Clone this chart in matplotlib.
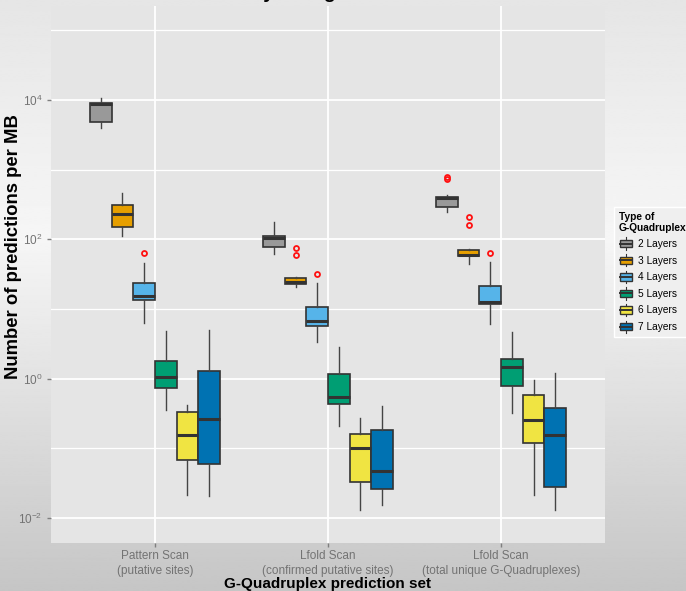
import numpy as np
import matplotlib
matplotlib.use('Agg')
import matplotlib.pyplot as plt
from matplotlib.patches import Rectangle, Patch
from matplotlib.lines import Line2D
from matplotlib.legend_handler import HandlerBase
from matplotlib.ticker import FixedLocator

plt.rcParams['font.family'] = ['Liberation Sans', 'DejaVu Sans']
plt.rcParams['mathtext.fontset'] = 'custom'
plt.rcParams['mathtext.rm'] = 'Liberation Sans'
plt.rcParams['mathtext.it'] = 'Liberation Sans:italic'
plt.rcParams['mathtext.bf'] = 'Liberation Sans:bold'

# prediction sets on the x axis
sets = ['Pattern Scan\n(putative sites)',
        'Lfold Scan\n(confirmed putative sites)',
        'Lfold Scan\n(total unique G-Quadruplexes)']
layers = ['2 Layers', '3 Layers', '4 Layers', '5 Layers', '6 Layers', '7 Layers']
layer_colors = ['#999999', '#E69F00', '#56B4E9', '#009E73', '#F0E442', '#0072B2']

# box statistics per set, one row per layer: whisker low, q1, median, q3, whisker high
pattern_stats = [
    [3930, 4890, 8710, 8950, 10570],
    [112, 148, 234, 316, 468],
    [6.3, 13.5, 15.5, 23.4, 46.3],
    [0.355, 0.74, 1.04, 1.82, 4.85],
    [0.0214, 0.0676, 0.156, 0.331, 0.42],
    [0.0209, 0.0589, 0.263, 1.28, 4.97],
]
confirmed_stats = [
    [61.7, 77.1, 103.7, 112.2, 179.5],
    [20.4, 22.7, 24.5, 27.5, 28.6],
    [3.4, 5.66, 6.68, 10.6, 23.4],
    [0.21, 0.43, 0.55, 1.17, 2.88],
    [0.0129, 0.0324, 0.1016, 0.158, 0.271],
    [0.0155, 0.026, 0.0479, 0.184, 0.407],
]
total_stats = [
    [245, 295, 389, 410, 427],
    [44.7, 57.5, 58.9, 70.8, 72.4],
    [6.03, 11.6, 12.8, 21.4, 47.9],
    [0.324, 0.78, 1.48, 1.92, 4.74],
    [0.0214, 0.119, 0.257, 0.575, 0.97],
    [0.0132, 0.0275, 0.156, 0.38, 1.22],
]
# outliers per set and layer
pattern_out = [[], [], [64.6], [], [], []]
confirmed_out = [[], [74.5, 58.9], [31.6], [], [], []]
total_out = [[776, 724], [207, 158], [64.6], [], [], []]

all_stats = [pattern_stats, confirmed_stats, total_stats]
all_out = [pattern_out, confirmed_out, total_out]

fig = plt.figure(figsize=(6.86, 5.91), dpi=100)

# soft grey gradient behind everything
bg_ax = fig.add_axes([0, 0, 1, 1], zorder=-10)
ramp = np.interp(np.linspace(0, 1, 300), [0, 0.4, 1], [0.90, 0.965, 0.775])
bg_ax.imshow(ramp[:, None], cmap='gray', vmin=0, vmax=1, aspect='auto',
             extent=[0, 1, 0, 1], origin='upper')
bg_ax.axis('off')

ax = fig.add_axes([51 / 686, 48 / 591, 554 / 686, 537 / 591])
ax.set_facecolor('#E5E5E5')
for s in ax.spines.values():
    s.set_visible(False)

dodge = 0.125
for g, (stats, outs) in enumerate(zip(all_stats, all_out)):
    for i, (row, fl) in enumerate(zip(stats, outs)):
        lo, q1, med, q3, hi = row
        d = {'whislo': lo, 'q1': q1, 'med': med, 'q3': q3, 'whishi': hi,
             'fliers': np.array(fl)}
        pos = g + 1 + (i - 2.5) * dodge
        ax.bxp([d], positions=[pos], widths=dodge, showcaps=False,
               patch_artist=True, manage_ticks=False,
               boxprops=dict(facecolor=layer_colors[i], edgecolor='#333333', linewidth=1.2),
               medianprops=dict(color='#333333', linewidth=2.2),
               whiskerprops=dict(color='#444444', linewidth=1.0),
               flierprops=dict(marker='o', markerfacecolor='none', markeredgecolor='#FF1010',
                               markersize=3.6, markeredgewidth=1.3))

ax.set_yscale('log')
ax.set_ylim(10 ** -2.359, 10 ** 5.349)
ax.set_xlim(0.4, 3.6)

ax.yaxis.set_major_locator(FixedLocator([1e-2, 1e0, 1e2, 1e4]))
ax.set_yticklabels(['$10^{-2}$', '$10^{0}$', '$10^{2}$', '$10^{4}$'])
ax.yaxis.set_minor_locator(FixedLocator([1e-1, 1e1, 1e3, 1e5]))
ax.yaxis.set_minor_formatter(plt.NullFormatter())
ax.set_xticks([1, 2, 3])
ax.set_xticklabels(sets, linespacing=1.35)

ax.tick_params(axis='both', which='major', colors='#7F7F7F', labelcolor='#737373',
               labelsize=8.5, length=3, width=1)
ax.tick_params(axis='y', which='minor', length=0)
ax.tick_params(axis='x', pad=2)
ax.tick_params(axis='y', pad=3)

ax.grid(True, which='major', color='white', linewidth=1.3)
ax.grid(True, which='minor', axis='y', color='white', linewidth=0.9)
ax.set_axisbelow(True)

fig.text(14 / 686, 1 - 247 / 591, 'Number of predictions per MB', rotation=90,
         ha='center', va='center', fontsize=13.3, fontweight='bold')
fig.text(327 / 686, 1 - 584 / 591, 'G-Quadruplex prediction set', ha='center',
         va='center', fontsize=11, fontweight='bold')

fig.text(328 / 686, 1 + 2.5 / 591, 'Flybase genomes', ha='center', va='baseline',
         fontsize=14, fontweight='bold')


class BoxKey(HandlerBase):
    def create_artists(self, legend, orig_handle, xdescent, ydescent,
                       width, height, fontsize, trans):
        x0, y0 = -xdescent, -ydescent
        bgr = Rectangle((x0, y0), width, height, facecolor='#F2F2F2',
                        edgecolor='none', transform=trans)
        whisk = Line2D([x0 + width / 2] * 2, [y0, y0 + height], color='#333333',
                       linewidth=0.8, transform=trans)
        box = Rectangle((x0 + width * 0.1, y0 + height * 0.2), width * 0.8, height * 0.6,
                        facecolor=orig_handle.get_facecolor(), edgecolor='#333333',
                        linewidth=1.0, transform=trans)
        med = Line2D([x0 + width * 0.1, x0 + width * 0.9], [y0 + height / 2] * 2,
                     color='#333333', linewidth=1.4, transform=trans)
        return [bgr, whisk, box, med]


handles = [Patch(facecolor=c) for c in layer_colors]
leg = fig.legend(handles, layers, handler_map={Patch: BoxKey()},
                 loc='upper left', bbox_to_anchor=(614 / 686, (591 - 207) / 591),
                 title='Type of\nG-Quadruplex', alignment='left',
                 fontsize=7.3, title_fontproperties={'weight': 'bold', 'size': 7.3},
                 frameon=True, fancybox=False, facecolor='#EFEFEF', edgecolor='white',
                 framealpha=1, handlelength=1.5, handleheight=1.5, labelspacing=0.42,
                 handletextpad=0.4, borderpad=0.45, borderaxespad=0)

fig.savefig('out.png', dpi=100)
